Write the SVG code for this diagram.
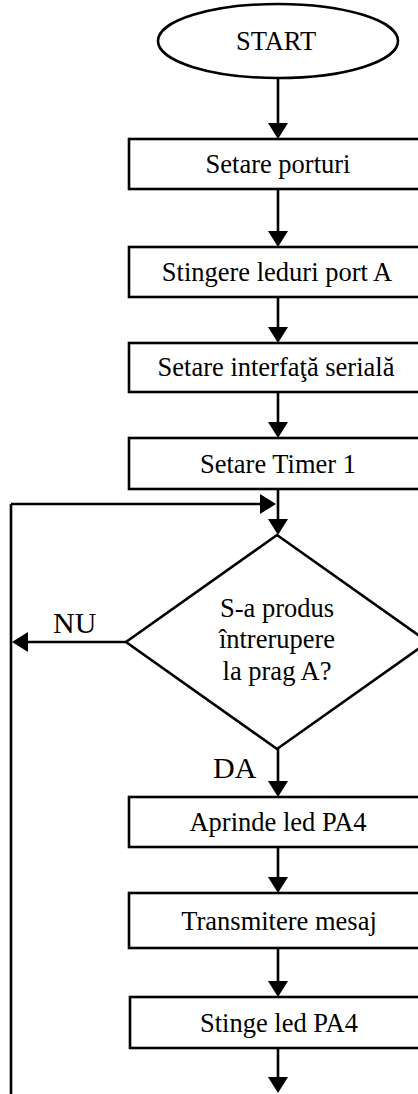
<svg xmlns="http://www.w3.org/2000/svg" width="418" height="1094" viewBox="0 0 418 1094">
  <style>
    .shape { fill: #ffffff; stroke: #000000; stroke-width: 2.6; }
    .label { font-family: "Liberation Serif", "Times New Roman", serif; font-size: 26.5px; fill: #000000; text-anchor: middle; }
    .branch { font-family: "Liberation Serif", "Times New Roman", serif; font-size: 30px; fill: #000000; }
    .flow { fill: none; stroke: #000000; stroke-width: 2.6; marker-end: url(#arrow); }
    .wire { fill: none; stroke: #000000; stroke-width: 2.6; }
  </style>
  <defs>
    <marker id="arrow" markerUnits="userSpaceOnUse" viewBox="0 0 16 20" refX="12" refY="10" markerWidth="16" markerHeight="20" orient="auto">
      <path d="M0,0 L16,10 L0,20 Z" fill="#000000"/>
    </marker>
  </defs>
  <rect width="418" height="1094" fill="#ffffff"/>

  <!-- connectors -->
  <g id="connectors">
    <line class="flow" x1="278" y1="78" x2="278" y2="135"/>
    <line class="flow" x1="278" y1="189" x2="278" y2="243"/>
    <line class="flow" x1="278" y1="297" x2="278" y2="339"/>
    <line class="flow" x1="278" y1="392" x2="278" y2="434"/>
    <line class="flow" x1="278" y1="489" x2="278" y2="531"/>
    <!-- loop back from the bottom into the decision -->
    <path class="wire" d="M11,1094 V504"/>
    <path class="flow" d="M11,504 H272"/>
    <!-- NU branch -->
    <path class="flow" d="M126,642 H16"/>
    <!-- DA branch -->
    <line class="flow" x1="278" y1="749" x2="278" y2="793"/>
    <line class="flow" x1="278" y1="847" x2="278" y2="889"/>
    <line class="flow" x1="278" y1="948" x2="278" y2="993"/>
    <line class="flow" x1="278" y1="1048" x2="278" y2="1089"/>
  </g>

  <g id="start">
    <ellipse class="shape" cx="278" cy="41" rx="120" ry="37"/>
    <text class="label" x="276" y="50">START</text>
  </g>

  <g id="setare-porturi">
    <rect class="shape" x="129" y="139" width="300" height="50"/>
    <text class="label" x="278" y="173">Setare porturi</text>
  </g>

  <g id="stingere-leduri">
    <rect class="shape" x="129" y="247" width="300" height="50"/>
    <text class="label" x="277" y="281">Stingere leduri port A</text>
  </g>

  <g id="setare-interfata">
    <rect class="shape" x="129" y="343" width="300" height="49"/>
    <text class="label" x="276" y="376">Setare interfaţă serială</text>
  </g>

  <g id="setare-timer">
    <rect class="shape" x="129" y="438" width="300" height="51"/>
    <text class="label" x="278" y="473">Setare Timer 1</text>
  </g>

  <g id="decizie">
    <polygon class="shape" points="277,535 428,642 277,749 126,642"/>
    <text class="label" x="277" y="617">S-a produs</text>
    <text class="label" x="277" y="648">întrerupere</text>
    <text class="label" x="277" y="680">la prag A?</text>
  </g>

  <g id="eticheta-nu">
    <text class="branch" x="53" y="633">NU</text>
  </g>

  <g id="eticheta-da">
    <text class="branch" x="213" y="778">DA</text>
  </g>

  <g id="aprinde-led">
    <rect class="shape" x="129" y="797" width="300" height="50"/>
    <text class="label" x="278" y="831">Aprinde led PA4</text>
  </g>

  <g id="transmitere">
    <rect class="shape" x="129" y="893" width="300" height="55"/>
    <text class="label" x="279" y="930">Transmitere mesaj</text>
  </g>

  <g id="stinge-led">
    <rect class="shape" x="130" y="997" width="300" height="51"/>
    <text class="label" x="279" y="1032">Stinge led PA4</text>
  </g>
</svg>
